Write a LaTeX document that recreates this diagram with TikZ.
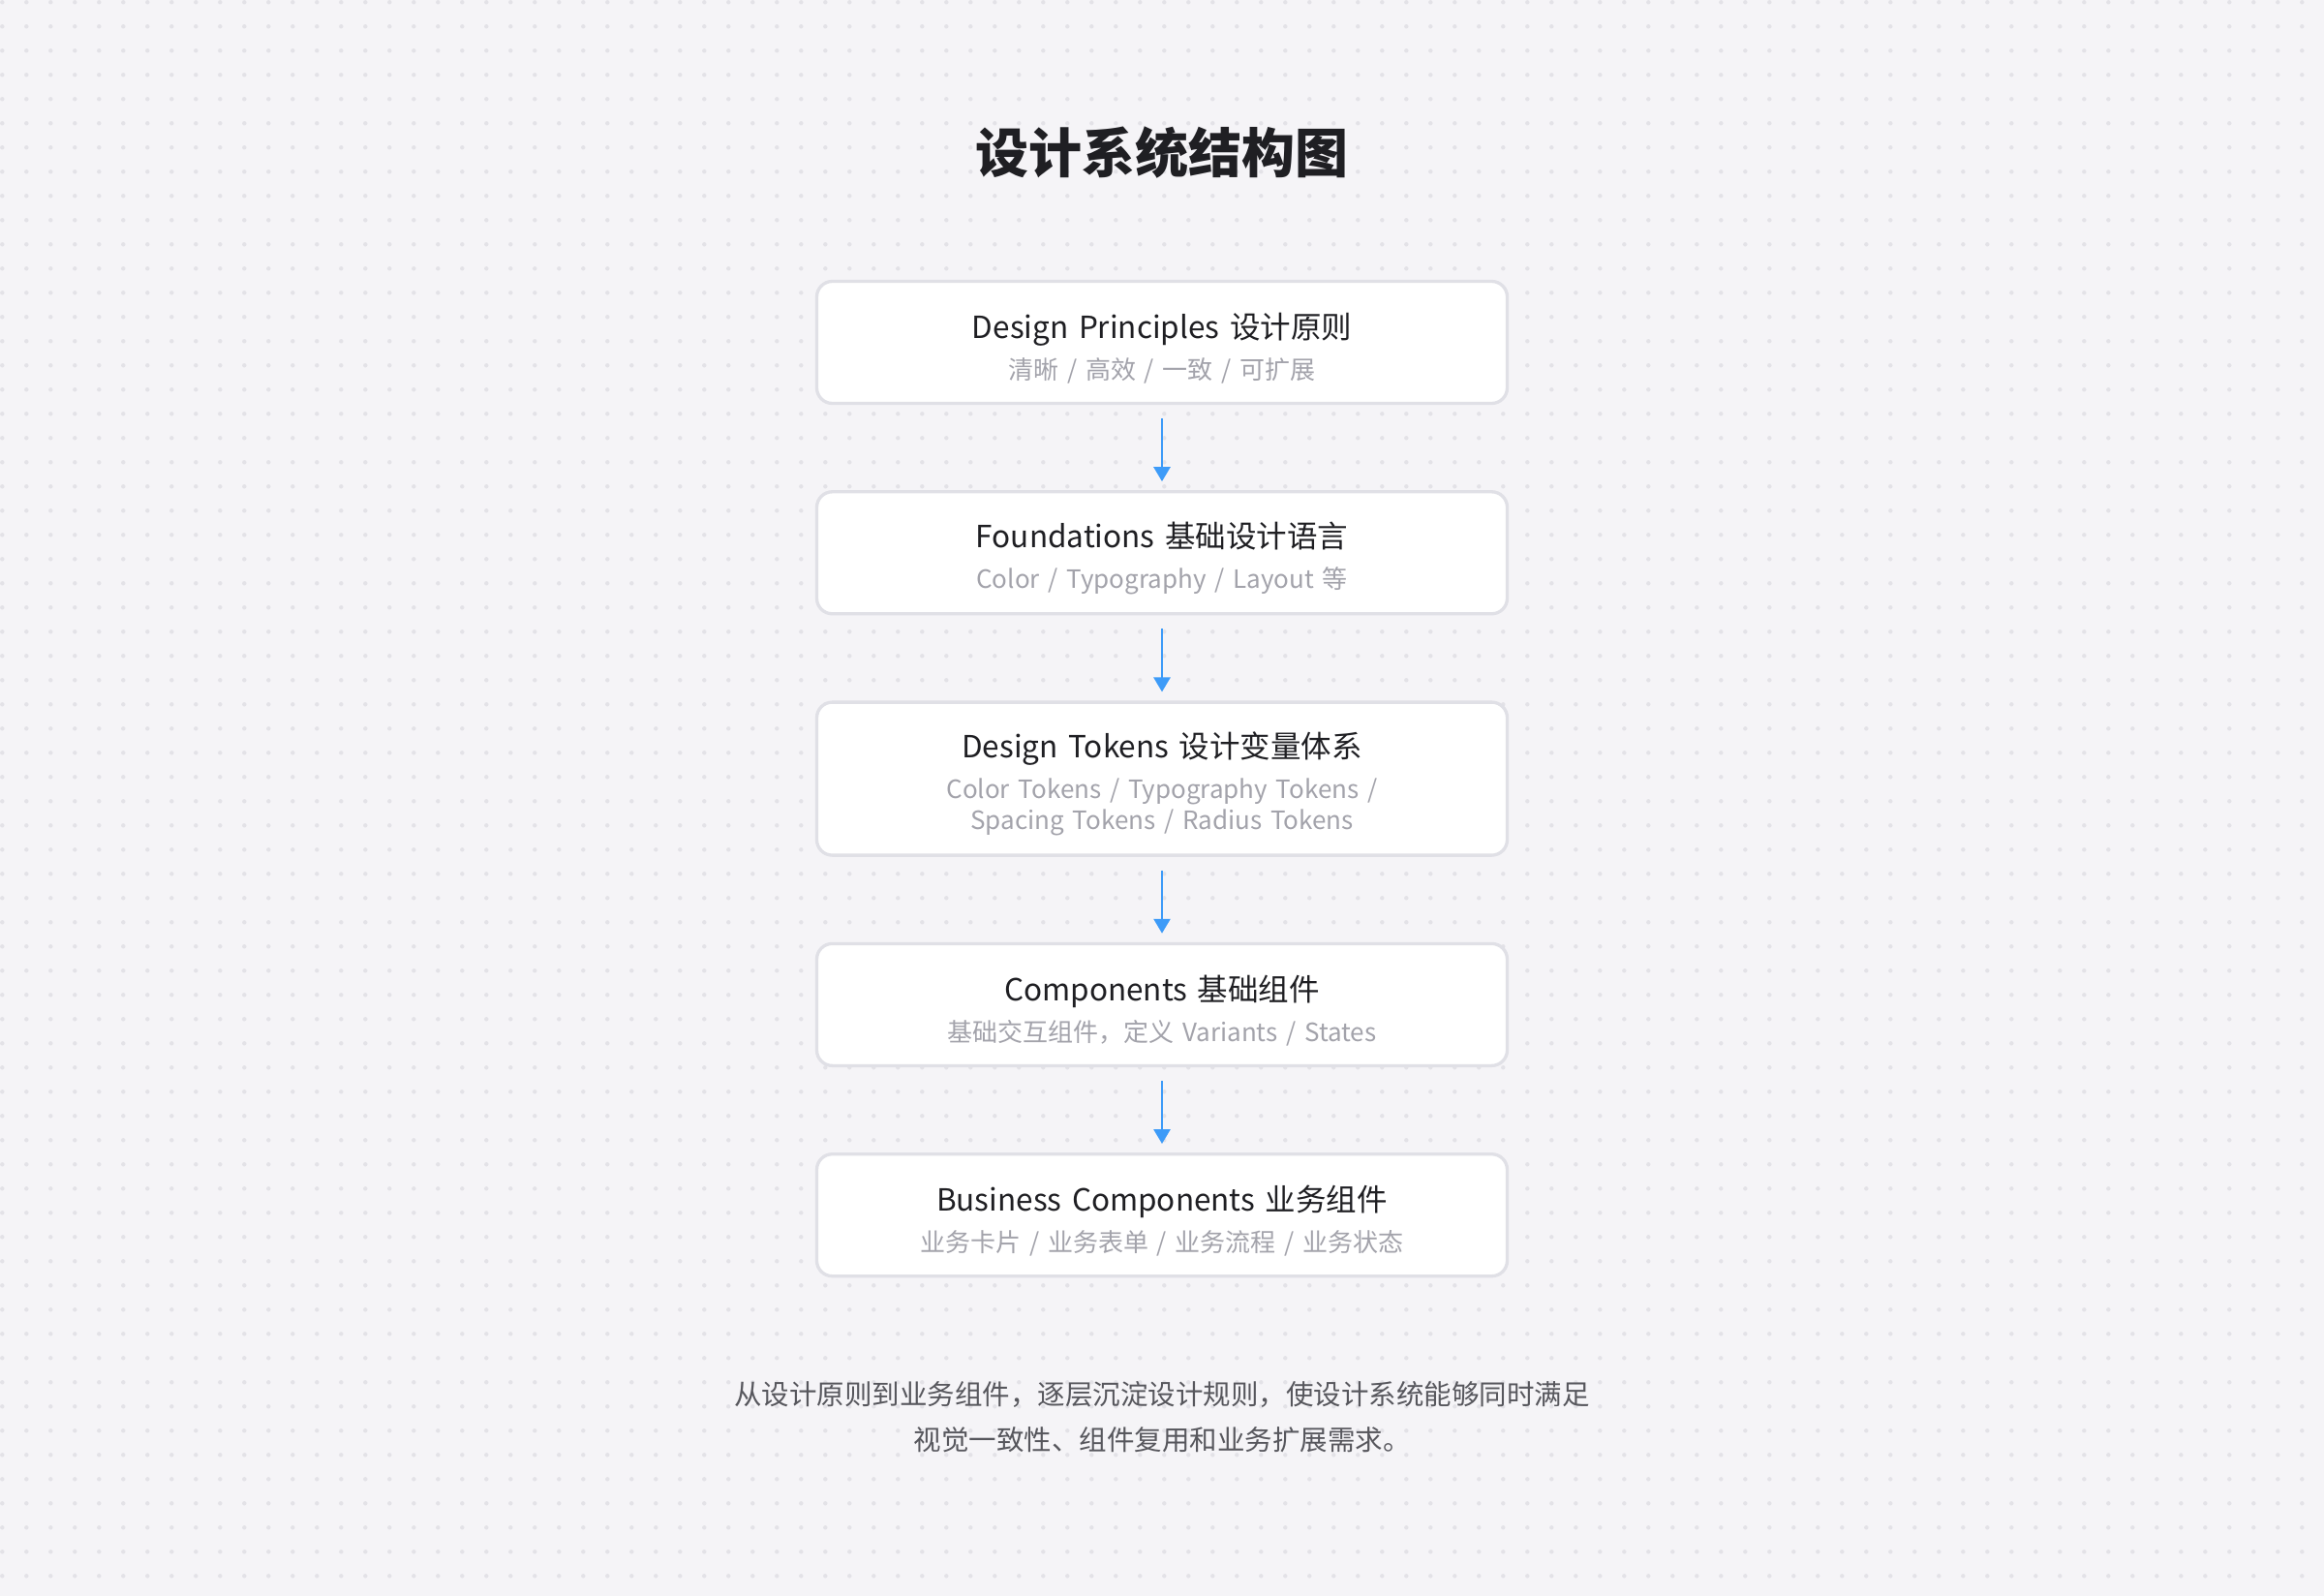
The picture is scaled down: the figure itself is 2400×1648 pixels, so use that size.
\documentclass[tikz,border=0pt]{standalone}
\usepackage{fontspec}
\setmainfont[WordSpace=1.5]{Noto Sans CJK SC}
\usetikzlibrary{positioning,arrows.meta}

\definecolor{paperbg}{HTML}{F5F4F7}
\definecolor{dotgray}{HTML}{E3E2E7}
\definecolor{boxline}{HTML}{E0E0E6}
\definecolor{titleink}{HTML}{1F1F23}
\definecolor{subink}{HTML}{A3A3AB}
\definecolor{noteink}{HTML}{57575D}
\definecolor{flowblue}{HTML}{3D9BF8}

\newcommand{\layertitle}[1]{{\fontsize{31.5}{37}\selectfont\color{titleink}\rule{0pt}{38pt}#1}}

\tikzset{
  layerbox/.style={draw=boxline,line width=3.3pt,fill=white,rounded corners=16pt,
    minimum width=713pt,minimum height=126pt,align=center,inner sep=0pt,
    text=subink,font=\fontsize{26}{32}\selectfont},
  flowarrow/.style={draw=flowblue,line width=2.7pt,shorten <=14pt,shorten >=9pt,
    -{Triangle[width=17pt,length=15pt]}}
}

\begin{document}
\begin{tikzpicture}[x=1pt,y=-1pt,node distance=88pt]
\useasboundingbox (0,0) rectangle (2400,1648);
\fill[paperbg] (0,0) rectangle (2400,1648);
% dot grid
\foreach \i in {0,...,95}
  \foreach \j in {0,...,65}
    \fill[dotgray] (2.3+25*\i,2.3+25*\j) circle (2.2);

\node[font=\bfseries\fontsize{55}{66}\selectfont,text=titleink] (heading) at (1200,158) {设计系统结构图};

\node[layerbox] (principles) at (1200,353.5) {\layertitle{Design Principles 设计原则}\\[10pt]清晰 / 高效 / 一致 / 可扩展};
\node[layerbox,below=of principles] (foundations) {\layertitle{Foundations 基础设计语言}\\[10pt]Color / Typography / Layout 等};
\node[layerbox,below=of foundations,minimum height=158pt] (tokens) {\layertitle{Design Tokens 设计变量体系}\\[10pt]Color Tokens / Typography Tokens /\\Spacing Tokens / Radius Tokens};
\node[layerbox,below=of tokens] (components) {\layertitle{Components 基础组件}\\[10pt]基础交互组件，定义 Variants / States};
\node[layerbox,below=of components] (business) {\layertitle{Business Components 业务组件}\\[10pt]业务卡片 / 业务表单 / 业务流程 / 业务状态};

\draw[flowarrow] (principles) -- (foundations);
\draw[flowarrow] (foundations) -- (tokens);
\draw[flowarrow] (tokens) -- (components);
\draw[flowarrow] (components) -- (business);

\node[align=center,text=noteink,font=\fontsize{28.5}{47}\selectfont] (summary) at (1200,1463) {从设计原则到业务组件，逐层沉淀设计规则，使设计系统能够同时满足\\视觉一致性、组件复用和业务扩展需求。};
\end{tikzpicture}
\end{document}
